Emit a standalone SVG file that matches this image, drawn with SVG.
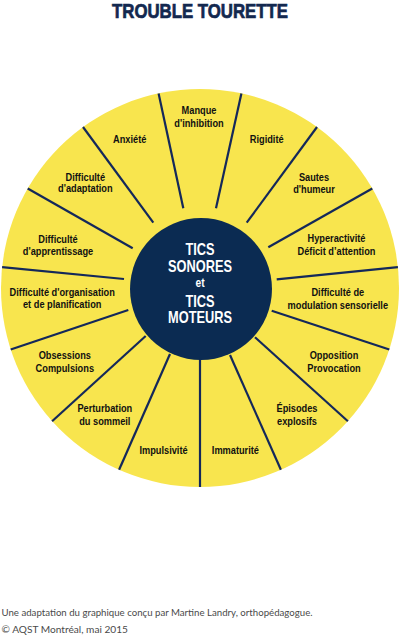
<svg xmlns="http://www.w3.org/2000/svg" width="400" height="637" viewBox="0 0 400 637">
<style>
.title{font-family:"Liberation Sans",Arial,sans-serif;font-weight:bold;font-size:20px;fill:#13284f;stroke:#13284f;stroke-width:0.7;text-anchor:middle}
.lbl{font-family:"Liberation Sans",Arial,sans-serif;font-weight:bold;font-size:11px;fill:#111;text-anchor:middle}
.ctr{font-family:"Liberation Sans",Arial,sans-serif;font-weight:bold;font-size:16px;fill:#fff;text-anchor:middle}
.et{font-size:12px}
.foot{font-family:"Lato","Liberation Sans",sans-serif;font-weight:normal;font-size:9.5px;fill:#4a4a4a}
.ray{stroke:#14285a;stroke-width:2.2;stroke-linecap:butt;fill:none}
</style>
<rect width="400" height="637" fill="#fff"/>
<text class="title" transform="matrix(0.84 0 0 1 200 0)" x="0" y="18.5">TROUBLE TOURETTE</text>
<g id="wheel">
<circle cx="200" cy="288" r="199" fill="#f8e54e"/>
</g>
<g id="connectors">
<line class="ray" x1="183.3" y1="208.3" x2="158.6" y2="93.4"/>
<line class="ray" x1="153.3" y1="222.7" x2="83.0" y2="127.0"/>
<line class="ray" x1="132.7" y1="248.3" x2="27.7" y2="188.5"/>
<line class="ray" x1="124" y1="279" x2="2.1" y2="267.2"/>
<line class="ray" x1="128.3" y1="310" x2="10.7" y2="349.5"/>
<line class="ray" x1="145.7" y1="336" x2="52.1" y2="421.2"/>
<line class="ray" x1="170" y1="354" x2="119.1" y2="469.8"/>
<line class="ray" x1="200" y1="359" x2="200" y2="487"/>
<line class="ray" x1="230" y1="355" x2="280.9" y2="469.8"/>
<line class="ray" x1="255" y1="337.3" x2="347.9" y2="421.2"/>
<line class="ray" x1="271.7" y1="310.7" x2="389.3" y2="349.5"/>
<line class="ray" x1="276.7" y1="279.3" x2="397.9" y2="267.2"/>
<line class="ray" x1="268.3" y1="247.3" x2="372.3" y2="188.5"/>
<line class="ray" x1="246.7" y1="222.7" x2="317.0" y2="127.0"/>
<line class="ray" x1="216" y1="208.3" x2="241.4" y2="93.4"/>
</g>
<g id="center">
<circle cx="201" cy="289" r="71" fill="#0b2b52"/>
<text class="ctr" transform="matrix(0.8 0 0 1 200 0)" x="0" y="255">TICS</text>
<text class="ctr" transform="matrix(0.8 0 0 1 200 0)" x="0" y="272.3">SONORES</text>
<text class="ctr et" transform="matrix(0.85 0 0 1 200 0)" x="0" y="287">et</text>
<text class="ctr" transform="matrix(0.8 0 0 1 200 0)" x="0" y="307.3">TICS</text>
<text class="ctr" transform="matrix(0.8 0 0 1 200 0)" x="0" y="323.3">MOTEURS</text>
</g>
<g id="n-manque"><text class="lbl" transform="matrix(0.84 0 0 1 199 0)" x="0" y="114">Manque</text><text class="lbl" transform="matrix(0.84 0 0 1 199 0)" x="0" y="127">d'inhibition</text></g>
<g id="n-rigidite"><text class="lbl" transform="matrix(0.84 0 0 1 266.7 0)" x="0" y="143.3">Rigidité</text></g>
<g id="n-sautes"><text class="lbl" transform="matrix(0.84 0 0 1 314 0)" x="0" y="180.7">Sautes</text><text class="lbl" transform="matrix(0.84 0 0 1 314 0)" x="0" y="193">d'humeur</text></g>
<g id="n-hyper"><text class="lbl" transform="matrix(0.84 0 0 1 336.5 0)" x="0" y="242">Hyperactivité</text><text class="lbl" transform="matrix(0.84 0 0 1 336.5 0)" x="0" y="255">Déficit d’attention</text></g>
<g id="n-modulation"><text class="lbl" transform="matrix(0.84 0 0 1 337.8 0)" x="0" y="296">Difficulté de</text><text class="lbl" transform="matrix(0.84 0 0 1 337.8 0)" x="0" y="308.7">modulation sensorielle</text></g>
<g id="n-opposition"><text class="lbl" transform="matrix(0.84 0 0 1 334 0)" x="0" y="359.3">Opposition</text><text class="lbl" transform="matrix(0.84 0 0 1 334 0)" x="0" y="371.7">Provocation</text></g>
<g id="n-episodes"><text class="lbl" transform="matrix(0.84 0 0 1 297 0)" x="0" y="411.7">Épisodes</text><text class="lbl" transform="matrix(0.84 0 0 1 297 0)" x="0" y="425">explosifs</text></g>
<g id="n-immaturite"><text class="lbl" transform="matrix(0.84 0 0 1 235.4 0)" x="0" y="454">Immaturité</text></g>
<g id="n-impulsivite"><text class="lbl" transform="matrix(0.84 0 0 1 163.5 0)" x="0" y="454">Impulsivité</text></g>
<g id="n-sommeil"><text class="lbl" transform="matrix(0.84 0 0 1 104.8 0)" x="0" y="412.3">Perturbation</text><text class="lbl" transform="matrix(0.84 0 0 1 104.8 0)" x="0" y="425">du sommeil</text></g>
<g id="n-obsessions"><text class="lbl" transform="matrix(0.84 0 0 1 64.8 0)" x="0" y="359.3">Obsessions</text><text class="lbl" transform="matrix(0.84 0 0 1 64.8 0)" x="0" y="371.7">Compulsions</text></g>
<g id="n-organisation"><text class="lbl" transform="matrix(0.84 0 0 1 62.2 0)" x="0" y="296">Difficulté d'organisation</text><text class="lbl" transform="matrix(0.84 0 0 1 62.2 0)" x="0" y="308.5">et de planification</text></g>
<g id="n-apprentissage"><text class="lbl" transform="matrix(0.84 0 0 1 58 0)" x="0" y="242.7">Difficulté</text><text class="lbl" transform="matrix(0.84 0 0 1 58 0)" x="0" y="255.5">d'apprentissage</text></g>
<g id="n-adaptation"><text class="lbl" transform="matrix(0.84 0 0 1 85.3 0)" x="0" y="181">Difficulté</text><text class="lbl" transform="matrix(0.84 0 0 1 85.3 0)" x="0" y="192.5">d'adaptation</text></g>
<g id="n-anxiete"><text class="lbl" transform="matrix(0.84 0 0 1 129.7 0)" x="0" y="143.3">Anxiété</text></g>
<text class="foot" x="1.5" y="615.5" textLength="311" lengthAdjust="spacingAndGlyphs">Une adaptation du graphique conçu par Martine Landry, orthopédagogue.</text>
<text class="foot" x="1.5" y="633.3" textLength="126.5" lengthAdjust="spacingAndGlyphs">© AQST Montréal, mai 2015</text>
</svg>
